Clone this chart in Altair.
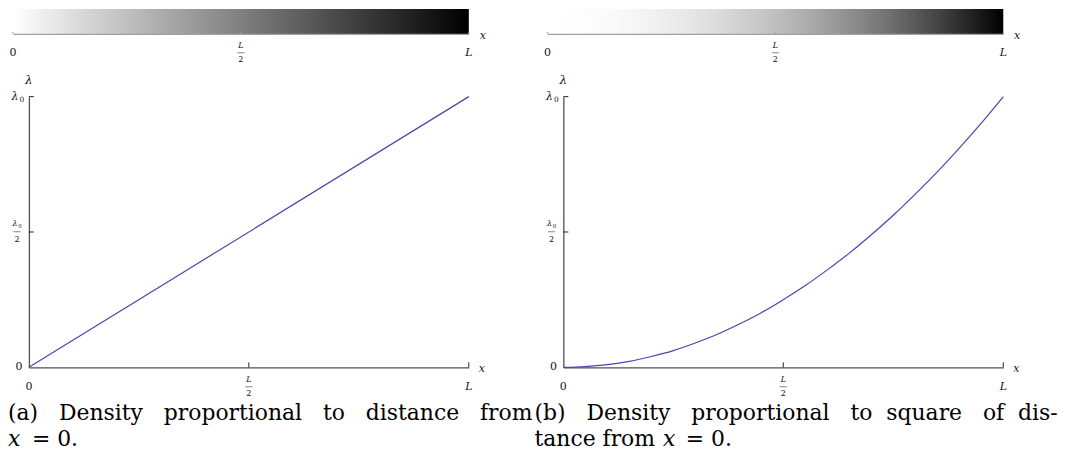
import altair as alt
import pandas as pd

# ---------------- data ----------------
tick_values = [0.0, 0.5, 1.0]
inner_ticks = [0.5, 1.0]

# panel (a): density proportional to distance
x_a = [0.0, 1.0]
lam_a = [0.0, 1.0]

# panel (b): density proportional to square of distance
x_b = [0.0, 0.05, 0.1, 0.15, 0.2, 0.25, 0.3, 0.35, 0.4, 0.45, 0.5,
       0.55, 0.6, 0.65, 0.7, 0.75, 0.8, 0.85, 0.9, 0.95, 1.0]
lam_b = [0.0, 0.003, 0.01, 0.022, 0.04, 0.062, 0.09, 0.122, 0.16, 0.202, 0.25,
         0.302, 0.36, 0.422, 0.49, 0.562, 0.64, 0.722, 0.81, 0.902, 1.0]

label_zero = "0"
label_L = "L"
label_x = "x"
label_lambda = "λ"
label_sub0 = "0"
frac_L_half = ["L", "—", "2"]
frac_bar = "—"
frac_two = "2"

NB = "\u00a0"
cap_a_words = ["(a)", "Density", "proportional", "to", "distance", "from"]
cap_a_gaps = [3, 3, 3, 3, 3]
cap_b_words = ["(b)", "Density", "proportional", "to", "square", "of", "dis-"]
cap_b_gaps = [3, 3, 3, 2, 3, 2]
cap_b_line2 = "tance from"
cap_eq = "= 0."

# ---------------- styles ----------------
SERIF = "DejaVu Serif"
PW, PH = 442, 272
GH = 25
GRAD_LEFT = -16          # gradient bar reaches further left than the plot
LINE_COLOR = "#4646b0"
AXIS_COLOR = "#505050"
GAXIS_COLOR = "#a0a0a0"
LABEL_SIZE = 11
FRAC_SIZE = 8
FRAC_STEP = 7
LFRAC_STEP = 8


def justify(words, gaps):
    out = words[0]
    for w, g in zip(words[1:], gaps):
        out += NB * g + w
    return out


def gray(v):
    g = int(round(255 * (1 - v)))
    return "#%02x%02x%02x" % (g, g, g)


def txt(rows, **kw):
    base = dict(font=SERIF, fontSize=LABEL_SIZE, baseline="middle", color="#111111")
    base.update(kw)
    return alt.Chart(alt.Data(values=rows)).mark_text(**base)


def frac(pos, parts, enc, dx=0, dy=0, italic_top=True):
    layers = []
    for i, part in enumerate(parts):
        style = "italic" if (i == 0 and italic_top) else "normal"
        layers.append(
            txt([{"v": pos, "t": part}], fontSize=FRAC_SIZE, fontStyle=style,
                dx=dx, dy=dy + (i - 1) * FRAC_STEP).encode(**enc)
        )
    return layers


def grad_chart(xs, lams):
    stops = [alt.GradientStop(offset=x, color=gray(l)) for x, l in zip(xs, lams)]
    xscale = alt.Scale(domain=[0, 1], range=[GRAD_LEFT, PW], nice=False, zero=False)
    rect = alt.Chart(alt.Data(values=[{"x0": xs[0], "x1": xs[-1]}])).mark_rect(
        fill=alt.Gradient(gradient="linear", x1=0, x2=1, y1=0, y2=0, stops=stops)
    ).encode(
        x=alt.X("x0:Q", scale=xscale,
                axis=alt.Axis(labels=False, ticks=False, title=None, grid=False,
                              domainColor=GAXIS_COLOR, domainWidth=1.2, zindex=1)),
        x2="x1:Q",
        y=alt.value(0), y2=alt.value(GH),
    )
    ticks = alt.Chart(alt.Data(values=[{"v": v} for v in tick_values])).mark_rule(
        color=GAXIS_COLOR).encode(x="v:Q", y=alt.value(GH), y2=alt.value(GH - 2))
    enc = dict(x="v:Q", y=alt.value(GH), text="t:N")
    l0 = txt([{"v": 0.0, "t": label_zero}], dy=19).encode(**enc)
    lL = txt([{"v": 1.0, "t": label_L}], dy=19, fontStyle="italic").encode(**enc)
    lf = frac(0.5, frac_L_half, enc, dy=19)
    lx = txt([{"v": 1.0, "t": label_x}], dx=14, dy=2, fontStyle="italic").encode(**enc)
    return alt.layer(rect, ticks, l0, lL, *lf, lx).properties(width=PW, height=GH)


def line_chart(xs, lams):
    sc = alt.Scale(domain=[0, 1], nice=False, zero=False)
    ax = alt.Axis(labels=False, ticks=False, title=None, grid=False,
                  domainColor=AXIS_COLOR, domainWidth=1.3)
    line = alt.Chart(pd.DataFrame({"x": xs, "lam": lams})).mark_line(
        color=LINE_COLOR, strokeWidth=1.2, interpolate="monotone"
    ).encode(x=alt.X("x:Q", scale=sc, axis=ax), y=alt.Y("lam:Q", scale=sc, axis=ax))
    tick_rows = [{"v": v} for v in inner_ticks]
    yt = alt.Chart(alt.Data(values=tick_rows)).mark_rule(color="#222222").encode(
        y="v:Q", x=alt.value(0), x2=alt.value(5))
    xt = alt.Chart(alt.Data(values=tick_rows)).mark_rule(color="#222222").encode(
        x="v:Q", y=alt.value(PH), y2=alt.value(PH - 5))
    yenc = dict(y="v:Q", x=alt.value(0), text="t:N")
    y0 = txt([{"v": 0.0, "t": label_zero}], dx=-10).encode(**yenc)
    # lambda_0 at the top
    y1 = txt([{"v": 1.0, "t": label_lambda}], dx=-14, fontStyle="italic").encode(**yenc)
    y1s = txt([{"v": 1.0, "t": label_sub0}], dx=-7, dy=3, fontSize=7.5).encode(**yenc)
    # lambda_0 / 2 in the middle
    yfl = txt([{"v": 0.5, "t": label_lambda}], dx=-14, dy=-LFRAC_STEP, fontSize=FRAC_SIZE,
              fontStyle="italic").encode(**yenc)
    yfs = txt([{"v": 0.5, "t": label_sub0}], dx=-9, dy=-LFRAC_STEP + 1.5,
              fontSize=5.5).encode(**yenc)
    yfb = txt([{"v": 0.5, "t": frac_bar}], dx=-12, fontSize=FRAC_SIZE).encode(**yenc)
    yf2 = txt([{"v": 0.5, "t": frac_two}], dx=-12, dy=LFRAC_STEP,
              fontSize=FRAC_SIZE).encode(**yenc)
    ytl = txt([{"v": 1.0, "t": label_lambda}], dy=-17, fontSize=12,
              fontStyle="italic").encode(**yenc)
    xenc = dict(x="v:Q", y=alt.value(PH), text="t:N")
    x0 = txt([{"v": 0.0, "t": label_zero}], dy=20).encode(**xenc)
    xL = txt([{"v": 1.0, "t": label_L}], dy=20, fontStyle="italic").encode(**xenc)
    xf = frac(0.5, frac_L_half, xenc, dy=20)
    xtl = txt([{"v": 1.0, "t": label_x}], dx=13, dy=2, fontStyle="italic").encode(**xenc)
    return alt.layer(line, yt, xt, y0, y1, y1s, yfl, yfs, yfb, yf2, ytl,
                     x0, xL, *xf, xtl).properties(width=PW, height=PH)


def caption_chart():
    xsc = alt.Scale(type="point", padding=0, domain=["a", "b"], range=[-21, 508])
    ysc = alt.Scale(type="point", padding=0, domain=[1, 2])
    enc = dict(x=alt.X("p:N", scale=xsc, axis=None),
               y=alt.Y("l:O", scale=ysc, axis=None), text="t:N")
    kw = dict(fontSize=22, align="left", color="#000000")
    main = txt([{"p": "a", "l": 1, "t": justify(cap_a_words, cap_a_gaps)},
                {"p": "b", "l": 1, "t": justify(cap_b_words, cap_b_gaps)},
                {"p": "b", "l": 2, "t": cap_b_line2}], **kw).encode(**enc)
    xa = txt([{"p": "a", "l": 2, "t": label_x}], fontStyle="italic", **kw).encode(**enc)
    ea = txt([{"p": "a", "l": 2, "t": cap_eq}], dx=24, **kw).encode(**enc)
    xb = txt([{"p": "b", "l": 2, "t": label_x}], dx=129, fontStyle="italic", **kw).encode(**enc)
    eb = txt([{"p": "b", "l": 2, "t": cap_eq}], dx=152, **kw).encode(**enc)
    return alt.layer(main, xa, ea, xb, eb).properties(width=PW, height=26)


col_a = alt.vconcat(grad_chart(x_a, lam_a), line_chart(x_a, lam_a), spacing=10)
col_b = alt.vconcat(grad_chart(x_b, lam_b), line_chart(x_b, lam_b), spacing=10)
row = alt.hconcat(col_a, col_b, spacing=57)

chart = alt.vconcat(row, caption_chart(), spacing=4).properties(
    padding={"left": 0, "top": 0, "right": 0, "bottom": 0}
).configure_view(stroke=None)

chart.save("out.html", embed_options={"renderer": "svg", "actions": False})
